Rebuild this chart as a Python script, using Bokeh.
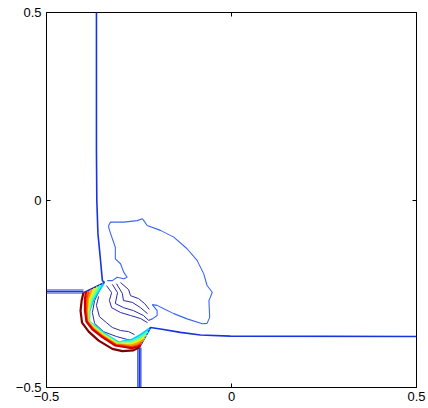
from bokeh.plotting import figure
from bokeh.models import Range1d, FixedTicker, LinearAxis, CustomLabelingPolicy
from bokeh.embed import file_html
from bokeh.resources import INLINE

# ---------------- data (data coordinates) ----------------
tick_values = [-0.5, 0, 0.5]
tick_labels = ["\u22120.5", "0", "0.5"]

# shock fronts
shock_top_x = [-0.365, -0.365, -0.364, -0.361, -0.354, -0.349, -0.343]
shock_top_y = [0.5, 0.132, -0.001, -0.089, -0.161, -0.215, -0.220]
shock_left_y = [-0.240, -0.244, -0.248]
shock_left_x = [-0.5, -0.400]
shock_diag_x = [-0.400, -0.372, -0.343]
shock_diag_y = [-0.247, -0.234, -0.220]
shock_right_x = [-0.249, -0.219, -0.192, -0.138, -0.084, -0.003, 0.5]
shock_right_y = [-0.393, -0.340, -0.344, -0.353, -0.360, -0.363, -0.364]
shock_bottom_x = [-0.253, -0.249, -0.245]
shock_bottom_y = [-0.393, -0.5]

# light-blue contour (large lobe)
lobe_x = [-0.336, -0.322, -0.309, -0.291, -0.282, -0.291, -0.300, -0.314, -0.314,
          -0.327, -0.332, -0.332, -0.327, -0.291, -0.255, -0.241, -0.237, -0.228,
          -0.192, -0.156, -0.120, -0.093, -0.075, -0.066, -0.052, -0.057, -0.061,
          -0.059, -0.066, -0.079, -0.120, -0.156, -0.183, -0.201, -0.214, -0.201,
          -0.201, -0.214, -0.224]
lobe_y = [-0.215, -0.215, -0.206, -0.210, -0.206, -0.193, -0.170, -0.157, -0.126,
          -0.089, -0.073, -0.068, -0.059, -0.059, -0.055, -0.050, -0.055, -0.068,
          -0.081, -0.099, -0.130, -0.161, -0.197, -0.228, -0.246, -0.259, -0.268,
          -0.313, -0.329, -0.330, -0.317, -0.303, -0.290, -0.281, -0.279, -0.295,
          -0.308, -0.317, -0.321]

# coloured contour levels of the bubble (outermost dark red -> innermost cyan)
band_x = [
    [-0.400, -0.405, -0.408, -0.404, -0.386, -0.359, -0.322, -0.295, -0.265, -0.249],
    [-0.393, -0.396, -0.396, -0.392, -0.376, -0.350, -0.314, -0.289, -0.270, -0.254, -0.246],
    [-0.386, -0.392, -0.393, -0.391, -0.374, -0.349, -0.312, -0.289, -0.270, -0.251, -0.242],
    [-0.378, -0.388, -0.391, -0.389, -0.373, -0.347, -0.311, -0.289, -0.270, -0.250, -0.238],
    [-0.370, -0.384, -0.389, -0.388, -0.372, -0.346, -0.309, -0.289, -0.270, -0.249, -0.235],
    [-0.362, -0.380, -0.387, -0.387, -0.370, -0.345, -0.308, -0.289, -0.270, -0.247, -0.230],
    [-0.354, -0.376, -0.386, -0.386, -0.369, -0.343, -0.307, -0.289, -0.270, -0.246, -0.226],
    [-0.346, -0.372, -0.384, -0.385, -0.368, -0.342, -0.305, -0.289, -0.270, -0.245, -0.222],
]
band_y = [
    [-0.247, -0.268, -0.295, -0.327, -0.351, -0.375, -0.397, -0.403, -0.401, -0.393],
    [-0.244, -0.263, -0.295, -0.324, -0.345, -0.365, -0.388, -0.392, -0.395, -0.392, -0.388],
    [-0.243, -0.263, -0.295, -0.324, -0.344, -0.364, -0.387, -0.389, -0.392, -0.387, -0.380],
    [-0.239, -0.263, -0.295, -0.324, -0.343, -0.363, -0.385, -0.387, -0.388, -0.381, -0.373],
    [-0.235, -0.263, -0.295, -0.324, -0.341, -0.361, -0.384, -0.384, -0.384, -0.376, -0.367],
    [-0.231, -0.263, -0.295, -0.324, -0.340, -0.360, -0.383, -0.381, -0.380, -0.371, -0.359],
    [-0.227, -0.263, -0.295, -0.324, -0.339, -0.359, -0.381, -0.379, -0.377, -0.365, -0.351],
    [-0.223, -0.263, -0.295, -0.324, -0.337, -0.357, -0.380, -0.376, -0.373, -0.359, -0.343],
]
band_colors = ["#7f0000", "#d00000", "#ff4a00", "#ff9c00", "#f2f000",
               "#9cff62", "#3cffc2", "#00d0ff"]

# navy inner contours
inner_x = [
    [-0.354, -0.370, -0.376, -0.370, -0.346, -0.311, -0.281, -0.254, -0.238],
    [-0.338, -0.324, -0.330, -0.324, -0.300, -0.273, -0.246, -0.227],
    [-0.322, -0.308, -0.314, -0.292, -0.265, -0.238, -0.224],
    [-0.311, -0.295, -0.292, -0.268, -0.246, -0.227],
    [-0.300, -0.278, -0.273, -0.251, -0.235, -0.222],
    [-0.359, -0.365, -0.357, -0.338, -0.322, -0.300, -0.278, -0.262],
]
inner_y = [
    [-0.236, -0.268, -0.300, -0.329, -0.351, -0.364, -0.372, -0.372, -0.356],
    [-0.228, -0.247, -0.268, -0.287, -0.300, -0.308, -0.316, -0.327],
    [-0.225, -0.247, -0.276, -0.287, -0.295, -0.308, -0.321],
    [-0.223, -0.249, -0.268, -0.273, -0.287, -0.303],
    [-0.220, -0.239, -0.255, -0.263, -0.276, -0.292],
    [-0.257, -0.281, -0.311, -0.327, -0.340, -0.348, -0.351, -0.359],
]

# ---------------- figure ----------------
p = figure(width=426, height=406, output_backend="svg", toolbar_location=None,
           x_range=Range1d(-0.5, 0.5), y_range=Range1d(-0.5, 0.5),
           min_border_left=46, min_border_right=10, min_border_top=12,
           min_border_bottom=19)
p.grid.visible = False
p.outline_line_color = "black"
p.outline_line_width = 1
p.background_fill_color = "white"

FONT = "Liberation Sans"
label_map = dict(zip(tick_values, tick_labels))
for ax in (p.xaxis[0], p.yaxis[0]):
    ax.ticker = FixedTicker(ticks=tick_values)
    ax.major_label_overrides = label_map
    ax.minor_tick_line_color = None
    ax.major_tick_in = 4
    ax.major_tick_out = 0
    ax.axis_line_color = None
    ax.major_label_text_font = FONT
    ax.major_label_text_font_size = "13px"
    ax.major_label_text_color = "black"
    ax.major_label_standoff = 5
p.xaxis[0].major_label_standoff = 4

no_labels = CustomLabelingPolicy(code="for (const i of indices) indices.unset(i); return indices")
for side in ("above", "right"):
    ax = LinearAxis(ticker=FixedTicker(ticks=tick_values))
    ax.major_label_policy = no_labels
    ax.major_label_text_font_size = "1px"
    ax.major_label_standoff = 0
    ax.minor_tick_line_color = None
    ax.major_tick_in = 4
    ax.major_tick_out = 0
    ax.axis_line_color = None
    p.add_layout(ax, side)

SHOCK = "#1834e0"
# shocks
p.line(shock_top_x, shock_top_y, line_color=SHOCK, line_width=1.6)
for yv in shock_left_y:
    p.line(shock_left_x, [yv, yv], line_color=SHOCK, line_width=1.2)
p.line(shock_diag_x, shock_diag_y, line_color="#1a20b0", line_width=1.4)
p.line(shock_right_x, shock_right_y, line_color=SHOCK, line_width=1.7)
for xv in shock_bottom_x:
    p.line([xv, xv], shock_bottom_y, line_color=SHOCK, line_width=1.2)

# lobe
p.line(lobe_x, lobe_y, line_color="#3a66f5", line_width=1.1)

# inner navy contours
p.multi_line(inner_x, inner_y, line_color="#2b2ba6", line_width=1.0)

# bubble band (draw inner first so red lies on top)
order = list(range(len(band_x)))[::-1]
p.multi_line([band_x[i] for i in order], [band_y[i] for i in order],
             line_color=[band_colors[i] for i in order], line_width=2.2)

open("out.html", "w").write(file_html(p, INLINE))
